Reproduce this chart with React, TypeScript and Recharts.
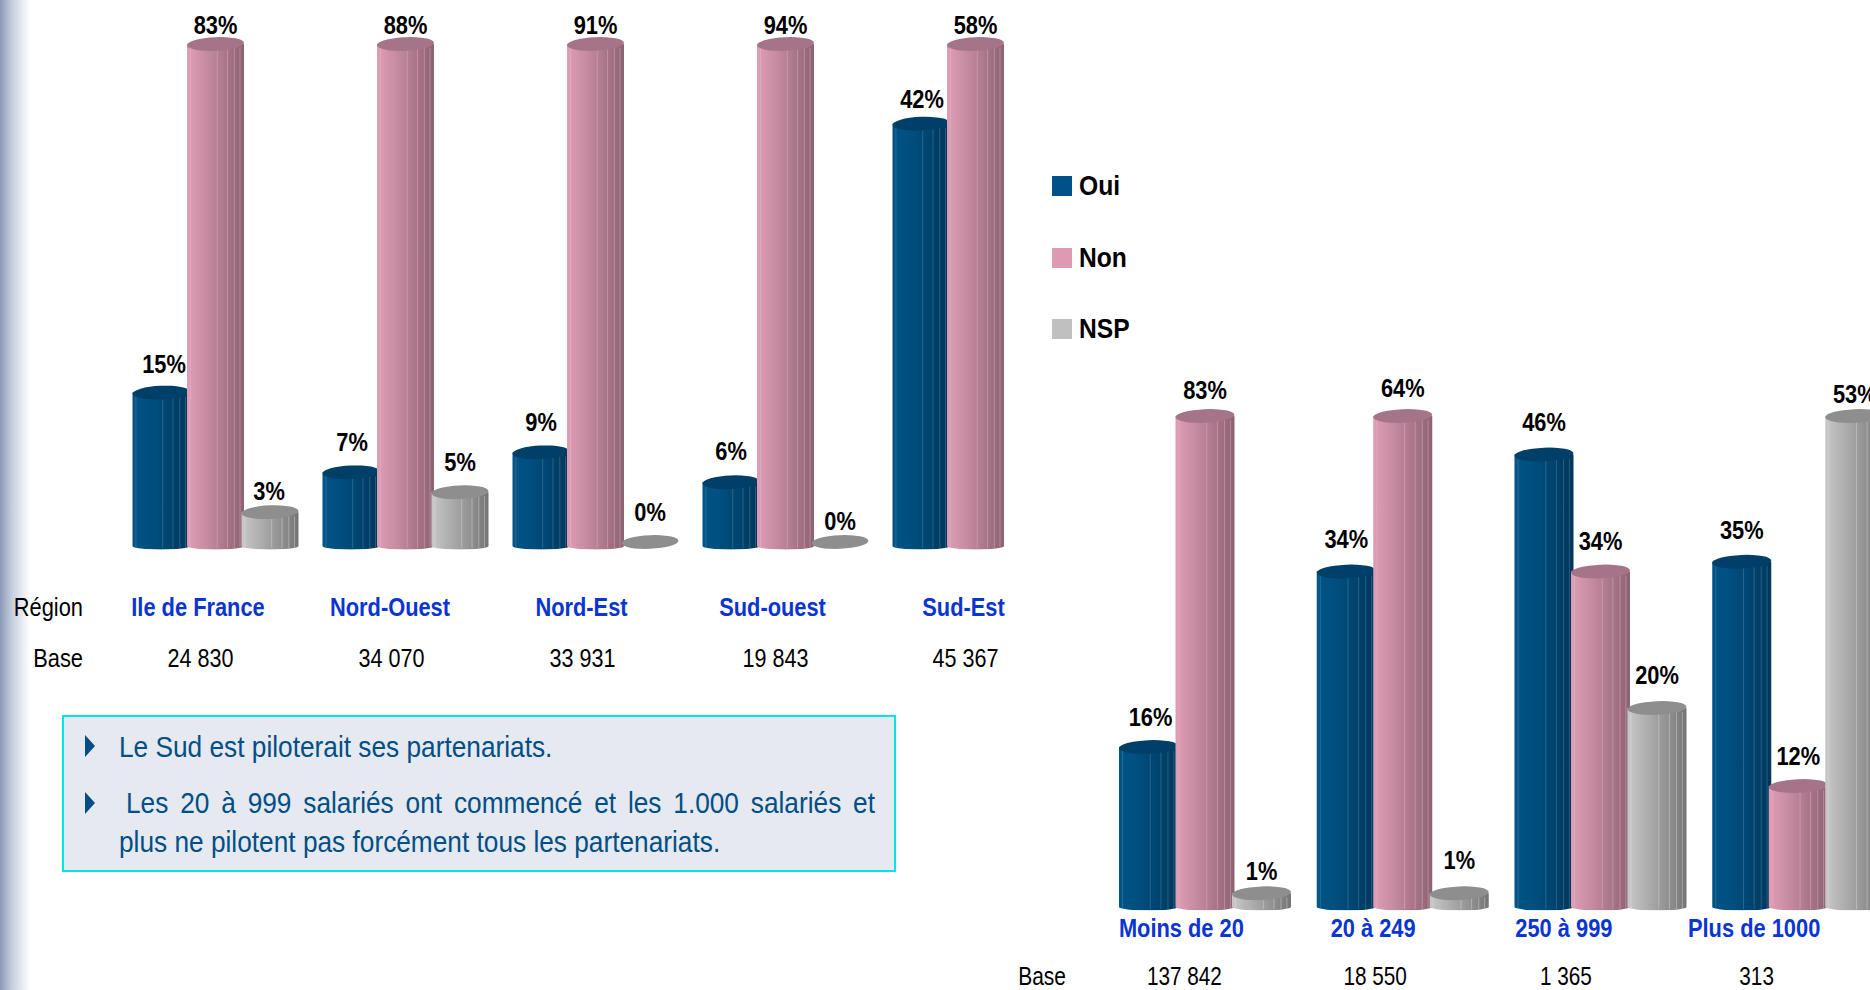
import { Bar, BarChart, LabelList, XAxis, YAxis } from "recharts";

const regions = ["Ile de France", "Nord-Ouest", "Nord-Est", "Sud-ouest", "Sud-Est"];
const regionBase = ["24 830", "34 070", "33 931", "19 843", "45 367"];
const regionOui = [15, 7, 9, 6, 42];
const regionNon = [83, 88, 91, 94, 58];
const regionNsp = [3, 5, 0, 0, null];

const sizes = ["Moins de 20", "20 à 249", "250 à 999", "Plus de 1000"];
const sizeBase = ["137 842", "18 550", "1 365", "313"];
const sizeOui = [16, 34, 46, 35];
const sizeNon = [83, 64, 34, 12];
const sizeNsp = [1, 1, 20, 53];

const seriesNames = ["Oui", "Non", "NSP"];
const legendColors = ["#00508a", "#dd9ab3", "#c0c0c0"];

// the source charts cut their axis at 50%, tall bars are flattened there
const AXIS_DOMAIN: [number, number] = [-0.75, 51];

const FONT = "'Liberation Sans', Arial, sans-serif";

// label lift above the cylinder top, by series then by category
const regionLift = [
  [29, 31, 31, 31, 25],
  [19, 19, 19, 19, 19],
  [21, 30, 30, 21, 0],
];
const sizeLift = [
  [30, 33, 33, 32],
  [26, 28, 31, 30],
  [22, 33, 33, 22],
];
// the blue labels sit a little right of their bar
const regionNudge = [[3, 1, 0, 0, 1], [0, 0, 0, 0, 0], [-1, 0, 0, 0, 0]];
const sizeNudge = [[2, 0, 0, 0], [0, 0, 0, 0], [0, 0, 0, 0]];

const skins = {
  Oui: { id: "cylOui", top: "#003f68", line: "#5f93b5", stops: ["#005487", "#004f80", "#00426c", "#00365a"] },
  Non: { id: "cylNon", top: "#a67488", line: "#e8c0cf", stops: ["#e09db6", "#c98ea4", "#a87488", "#8c6272"] },
  NSP: { id: "cylNsp", top: "#8e8e8e", line: "#e4e4e4", stops: ["#c8c8c8", "#b0b0b0", "#909090", "#747474"] },
};

function Wide({ x, y, sx, size, bold, color, anchor, children }: any) {
  return (
    <text
      transform={`translate(${x},${y}) scale(${sx},1)`}
      textAnchor={anchor ?? "middle"}
      dominantBaseline="central"
      fontFamily={FONT}
      fontSize={size}
      fontWeight={bold ? 700 : 400}
      fill={color ?? "#000"}
    >
      {children}
    </text>
  );
}

function Cylinder(props: any) {
  const { x, y, width, height, value, skin, capY } = props;
  if (value == null || Array.isArray(value) && value[1] == null) return null;
  const base = y + height;
  const top = Math.max(y, capY);
  const rx = width / 2;
  const cx = x + rx;
  const s = (skins as any)[skin];
  const body = `M${x},${top} L${x},${base + 4} A${rx},3.6 0 0 0 ${x + width},${base + 4} L${x + width},${top} Z`;
  return (
    <g>
      {height > 0.5 && (
        <>
          <path d={body} fill={`url(#${s.id})`} />
          {[0.06, 0.53, 0.71, 0.83, 0.93].map((f) => (
            <line
              key={f}
              x1={x + width * f}
              x2={x + width * f}
              y1={top + 4}
              y2={base + 6}
              stroke={s.line}
              strokeOpacity={0.5}
              strokeWidth={0.8}
            />
          ))}
        </>
      )}
      <ellipse cx={cx} cy={top} rx={rx} ry={6.8} fill={s.top} transform={`rotate(-2.5 ${cx} ${top})`} />
    </g>
  );
}

function BarLabel(props: any) {
  const { x, y, width, value, index, lift, nudge, capY } = props;
  if (value == null) return null;
  const top = Math.max(y, capY);
  return (
    <Wide x={x + width / 2 + nudge[index]} y={top - lift[index]} sx={0.84} size={26} bold>
      {value}%
    </Wide>
  );
}

function Gradients() {
  return (
    <defs>
      {Object.values(skins).map((s) => (
        <linearGradient key={s.id} id={s.id} x1="0" x2="1" y1="0" y2="0">
          <stop offset="0" stopColor={s.stops[0]} />
          <stop offset="0.3" stopColor={s.stops[1]} />
          <stop offset="0.7" stopColor={s.stops[2]} />
          <stop offset="1" stopColor={s.stops[3]} />
        </linearGradient>
      ))}
    </defs>
  );
}

function Panel({ data, lift, nudge, layout, bases, nameShift, baseShift, rowTitles }: any) {
  const tick = ({ x, index, payload }: any) => (
    <g>
      <Wide x={x + nameShift[index]} y={layout.nameY} sx={0.84} size={26} bold color="#0a35d2">
        {payload.value}
      </Wide>
      <Wide x={x + baseShift[index]} y={layout.baseY} sx={0.83} size={layout.baseSize}>
        {bases[index]}
      </Wide>
    </g>
  );
  return (
    <div style={{ position: "absolute", left: 0, top: 0 }}>
      <BarChart
        width={layout.width}
        height={layout.height}
        data={data}
        margin={layout.margin}
        barSize={layout.barSize}
        barGap={-2.5}
      >
        <Gradients />
        <XAxis
          dataKey="name"
          interval={0}
          axisLine={false}
          tickLine={false}
          height={layout.axisHeight}
          tick={tick}
        />
        <YAxis hide domain={AXIS_DOMAIN} allowDataOverflow />
        {seriesNames.map((name, i) => (
          <Bar
            key={name}
            dataKey={name}
            isAnimationActive={false}
            shape={(p: any) => <Cylinder {...p} skin={name} capY={layout.capY} />}
          >
            <LabelList
              dataKey={name}
              content={(p: any) => (
                <BarLabel {...p} lift={lift[i]} nudge={nudge[i]} capY={layout.capY} />
              )}
            />
          </Bar>
        ))}
        {rowTitles.map((t: any) => (
          <Wide key={t.text} x={t.x} y={t.y} sx={0.84} size={layout.baseSize} anchor="end">
            {t.text}
          </Wide>
        ))}
      </BarChart>
    </div>
  );
}

const regionData = regions.map((name, i) => ({
  name,
  Oui: regionOui[i],
  Non: regionNon[i],
  NSP: regionNsp[i],
}));
const sizeData = sizes.map((name, i) => ({
  name,
  Oui: sizeOui[i],
  Non: sizeNon[i],
  NSP: sizeNsp[i],
}));

const regionLayout = {
  width: 1100,
  height: 700,
  margin: { top: 34, right: 29.5, bottom: 40.5, left: 120.5 },
  barSize: 57,
  axisHeight: 110,
  capY: 44,
  nameY: 607,
  baseY: 658,
  baseSize: 26,
};
const sizeLayout = {
  width: 1900,
  height: 990,
  margin: { top: 405.75, right: 3, bottom: 9.7, left: 1106 },
  barSize: 59,
  axisHeight: 70,
  capY: 416,
  nameY: 928,
  baseY: 976,
  baseSize: 25,
};

const noteLine: any = {
  position: "absolute",
  fontFamily: FONT,
  fontSize: 30,
  lineHeight: "36px",
  color: "#004f86",
  transform: "scaleX(0.875)",
  transformOrigin: "left center",
};

function Bullet({ top }: { top: number }) {
  return (
    <div
      style={{
        position: "absolute",
        left: 85,
        top,
        width: 0,
        height: 0,
        borderTop: "11px solid transparent",
        borderBottom: "11px solid transparent",
        borderLeft: "10px solid #004f86",
      }}
    />
  );
}

export default function App() {
  return (
    <div
      style={{
        position: "fixed",
        left: 0,
        top: 0,
        width: 1870,
        height: 990,
        overflow: "hidden",
        background: "#fff",
      }}
    >
      <div
        style={{
          position: "absolute",
          left: 0,
          top: 0,
          width: 30,
          height: 990,
          background: "linear-gradient(to right, #8b9ab8, #c6cedd 40%, #ffffff)",
        }}
      />
      <Panel
        data={regionData}
        lift={regionLift}
        nudge={regionNudge}
        layout={regionLayout}
        bases={regionBase}
        nameShift={[-17.5, -15.5, -14, -13, -12]}
        baseShift={[-15, -14, -13, -10, -10]}
        rowTitles={[
          { text: "Région", x: 83, y: 607 },
          { text: "Base", x: 83, y: 658 },
        ]}
      />
      <Panel
        data={sizeData}
        lift={sizeLift}
        nudge={sizeNudge}
        layout={sizeLayout}
        bases={sizeBase}
        nameShift={[-23.5, -29.5, -36.5, -44]}
        baseShift={[-20.5, -27.5, -34.5, -41.5]}
        rowTitles={[{ text: "Base", x: 1066, y: 976 }]}
      />
      {seriesNames.map((name, i) => (
        <div key={name}>
          <div
            style={{
              position: "absolute",
              left: 1052,
              top: [176, 248, 319][i],
              width: 20,
              height: 20,
              background: legendColors[i],
            }}
          />
          <div
            style={{
              position: "absolute",
              left: 1079,
              top: [168, 240, 311][i],
              fontFamily: FONT,
              fontWeight: 700,
              fontSize: 28,
              lineHeight: "36px",
              transform: "scaleX(0.88)",
              transformOrigin: "left center",
            }}
          >
            {name}
          </div>
        </div>
      ))}
      <div
        style={{
          position: "absolute",
          left: 62,
          top: 715,
          width: 830,
          height: 153,
          background: "#e6e9ef",
          border: "2px solid #00e5e5",
        }}
      />
      <Bullet top={735} />
      <div style={{ ...noteLine, left: 119, top: 729, whiteSpace: "nowrap" }}>
        Le Sud est piloterait ses partenariats.
      </div>
      <Bullet top={792} />
      <div style={{ ...noteLine, left: 126, top: 785, width: 856, textAlignLast: "justify" }}>
        Les 20 à 999 salariés ont commencé et les 1.000 salariés et
      </div>
      <div style={{ ...noteLine, left: 119, top: 824, whiteSpace: "nowrap" }}>
        plus ne pilotent pas forcément tous les partenariats.
      </div>
    </div>
  );
}
